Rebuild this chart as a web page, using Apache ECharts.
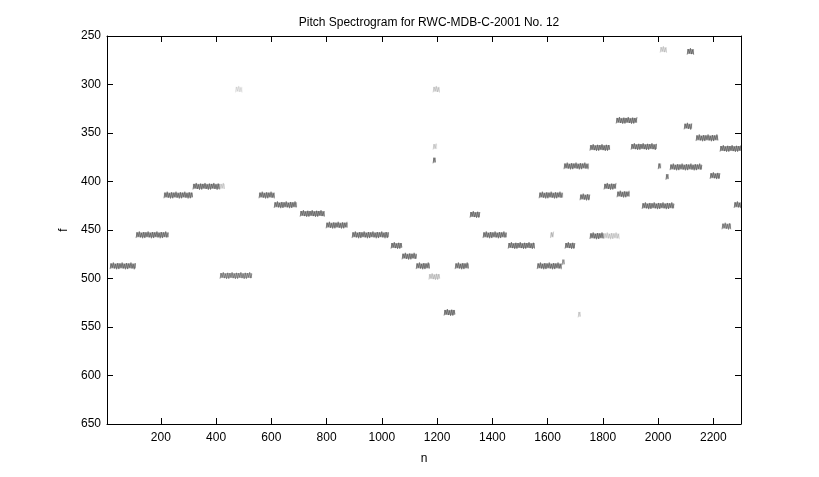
<!DOCTYPE html>
<html>
<head>
<meta charset="utf-8">
<script src="https://cdn.jsdelivr.net/npm/echarts@6/dist/echarts.min.js"></script>
<style>
html,body{margin:0;padding:0;background:#fff;}
#chart{width:819px;height:477px;}
</style>
</head>
<body>
<div id="chart"></div>
<script>
// Pitch segments: start frame n, end frame n, pitch bin f, darkness level
var segStart = [16, 110, 211, 316, 414, 414, 555, 610, 704, 798, 892, 1033, 1073, 1124, 1170, 1225, 1265, 1319, 1366, 1457, 1562, 1569, 1663, 1610, 1717, 1659, 1753, 1804, 1753, 1804, 1851, 1848, 1902, 1942, 2000, 2028, 2043, 2094, 2137, 2188, 2224, 2275, 2231, 2007, 2105, 470, 1185, 1185, 1185, 1710, 1652];
var segEnd   = [110, 229, 316, 414, 432, 530, 613, 693, 794, 877, 1026, 1073, 1127, 1174, 1210, 1265, 1315, 1355, 1453, 1554, 1652, 1656, 1699, 1622, 1753, 1750, 1804, 1860, 1826, 1848, 1898, 1924, 1996, 2058, 2008, 2036, 2159, 2123, 2217, 2224, 2300, 2300, 2264, 2032, 2130, 495, 1210, 1192, 1200, 1716, 1660];
var segFreq  = [487, 455, 414, 405, 405, 497, 414, 424, 433, 445, 455, 466, 477, 487, 498, 535, 487, 434, 455, 466, 487, 414, 466, 455, 416, 384, 456, 456, 365, 405, 413, 337, 364, 425, 384, 395, 385, 343, 355, 394, 366, 424, 446, 264, 266, 305, 305, 378, 364, 537, 483];
var segLevel = [1, 1, 1, 1, 0.3, 0.85, 1, 1, 1, 1, 1, 1, 1, 1, 0.35, 1, 1, 1, 1, 1, 1, 1, 1, 0.4, 1, 1, 1, 0.3, 1, 1, 1, 1, 1, 1, 1, 1, 1, 1, 1, 1, 1, 1, 0.9, 0.3, 1, 0.2, 0.3, 1, 0.3, 0.3, 0.7];

var xTicks = [200, 400, 600, 800, 1000, 1200, 1400, 1600, 1800, 2000, 2200];
var yTicks = [250, 300, 350, 400, 450, 500, 550, 600, 650];

var segData = segStart.map(function (s, i) { return [s, segEnd[i], segFreq[i], segLevel[i]]; });

var FONT = 'Liberation Sans, Arial, sans-serif';
var chart = echarts.init(document.getElementById('chart'), null, {renderer: 'canvas'});

function renderSeg(params, api) {
  var p0 = api.coord([api.value(0), api.value(2)]);
  var p1 = api.coord([api.value(1), api.value(2)]);
  var lv = api.value(3);
  var x0 = p0[0], x1 = Math.max(p1[0], p0[0] + 3), y = p0[1];
  var pts = [];
  var amps = [3.2, -2.4, 1.8, -3.4, 2.6, -1.8, 3.4, -2.8];
  var k = 0;
  for (var x = x0; x <= x1; x += 1.1) {
    pts.push([x, y + amps[k % amps.length]]);
    k++;
  }
  return {
    type: 'group',
    children: [
      {type: 'rect', shape: {x: x0, y: y - 2.5, width: x1 - x0, height: 5},
       style: {fill: 'rgba(100,100,100,' + (0.55 * lv) + ')'}},
      {type: 'polyline', shape: {points: pts},
       style: {stroke: 'rgba(75,75,75,' + (0.8 * lv) + ')', lineWidth: 0.7, fill: null}}
    ]
  };
}

var axisLine = {show: true, lineStyle: {color: '#000', width: 1}};
var plain = function (v) { return String(v); };
var option = {
  backgroundColor: '#fff',
  animation: false,
  title: {
    text: 'Pitch Spectrogram for RWC-MDB-C-2001 No. 12',
    left: 424, top: 12, textAlign: 'center',
    textStyle: {fontFamily: FONT, fontSize: 12, fontWeight: 'normal', color: '#000'}
  },
  grid: {left: 107, right: 78, top: 36, bottom: 53},
  xAxis: [{
    type: 'value', min: 5, max: 2300, position: 'bottom',
    name: 'n', nameLocation: 'middle', nameGap: 29,
    nameTextStyle: {fontFamily: FONT, fontSize: 12, color: '#000'},
    axisLine: axisLine,
    axisTick: {show: true, inside: true, length: 6, customValues: xTicks, lineStyle: {color: '#000'}},
    axisLabel: {show: true, customValues: xTicks, formatter: plain, margin: 8, fontFamily: FONT, fontSize: 12, color: '#000'},
    splitLine: {show: false}
  }, {
    type: 'value', min: 5, max: 2300, position: 'top',
    axisLine: axisLine,
    axisTick: {show: true, inside: true, length: 6, customValues: xTicks, lineStyle: {color: '#000'}},
    axisLabel: {show: false},
    splitLine: {show: false}
  }],
  yAxis: [{
    type: 'value', inverse: true, min: 250, max: 650, interval: 50, position: 'left',
    name: 'f', nameLocation: 'middle', nameGap: 32, nameRotate: 90,
    nameTextStyle: {fontFamily: FONT, fontSize: 12, color: '#000'},
    axisLine: axisLine,
    axisTick: {show: true, inside: true, length: 6, lineStyle: {color: '#000'}},
    axisLabel: {show: true, formatter: plain, margin: 6, fontFamily: FONT, fontSize: 12, color: '#000'},
    splitLine: {show: false}
  }, {
    type: 'value', inverse: true, min: 250, max: 650, interval: 50, position: 'right',
    axisLine: axisLine,
    axisTick: {show: true, inside: true, length: 6, lineStyle: {color: '#000'}},
    axisLabel: {show: false},
    splitLine: {show: false}
  }],
  series: [{
    type: 'custom',
    xAxisIndex: 0, yAxisIndex: 0,
    renderItem: renderSeg,
    encode: {x: [0, 1], y: 2},
    data: segData,
    clip: true,
    silent: true
  }]
};
chart.setOption(option);
</script>
</body>
</html>
